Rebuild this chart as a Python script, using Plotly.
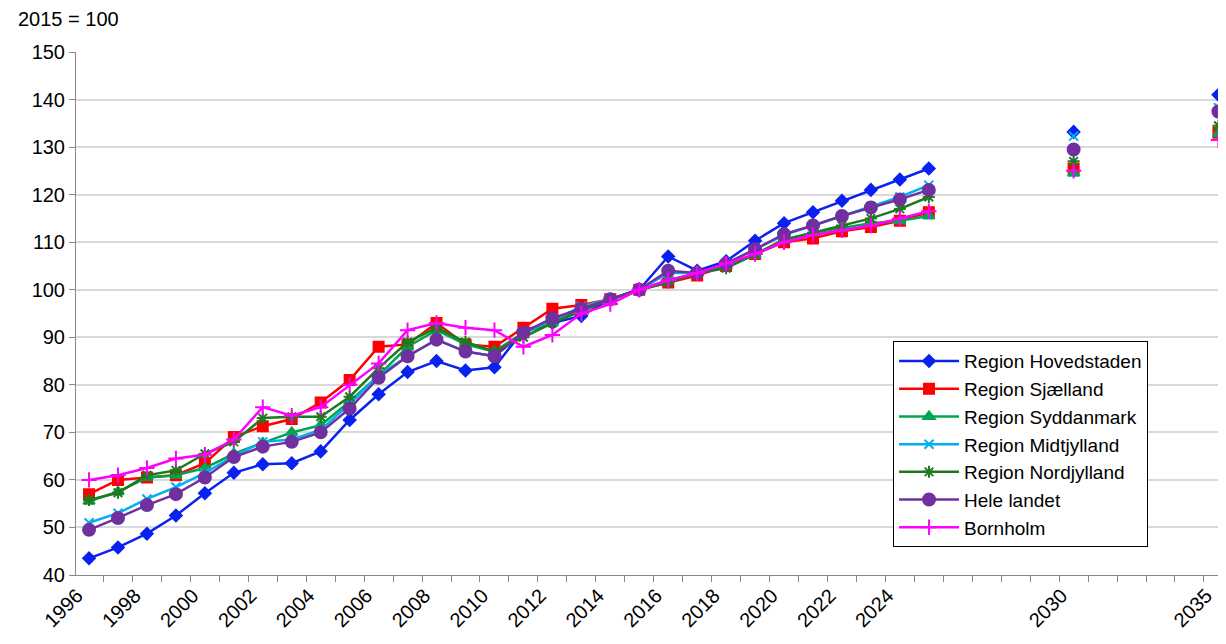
import plotly.graph_objects as go

years = list(range(1996, 2026)) + [2030, 2035]
hovedstaden = [43.5,45.8,48.7,52.5,57.2,61.5,63.3,63.5,66,72.6,78,82.7,85,83,83.7,91.5,93,94.5,98,100,107,104,106,110.3,114,116.3,118.7,121,123.2,125.5,133.2,141]
sjaelland = [57,60,60.5,61,63.5,69,71.3,72.8,76.3,81,88,88.5,93,88.5,88,92,96,96.8,98,100,101.5,103,105,107.5,110,110.8,112.3,113.2,114.5,116.3,125.5,133]
syddanmark = [55.5,57.5,60.5,61,62.5,65.5,67.8,70,71.5,76.5,82,88,91.5,88.5,87,91,93,96,98,100,102,103.5,105,107.3,110.5,112,113,114,114.5,115.5,124.5,132.8]
midtjylland = [51,53,56,58.5,61.5,65,68,68.5,70.5,76,82,86,89.5,87,86,91,93.5,96.5,98,100,103.5,103.5,105.5,108.5,111.5,113.5,115.5,117.5,119.5,122,132.3,138.3]
nordjylland = [55.8,57.3,61,62,65.5,68,73,73.3,73.3,77.5,83.5,89,92,89,87,90,93,95.5,98,100,101.5,103.5,104.5,107.5,110.5,112,113.5,115,117,119.5,127,134.5]
hele_landet = [49.5,52,54.7,57,60.5,64.8,67,68,70,75,81.5,86,89.5,87,86,91,94,96,98,100,104,103.5,105.5,108.5,111.7,113.5,115.5,117.3,119,121,129.5,137.5]
bornholm = [60,61,62.5,64.5,65.3,68.5,75.3,73.5,75.3,80,84.5,91.5,93,92,91.5,88,90.5,95,97,100,102,103.5,105.5,107.5,110,111.5,112.5,113.5,115,116.5,125,131.5]
tick_years = list(range(1996, 2025, 2)) + [2030, 2035]

series = [
    ("Region Hovedstaden", hovedstaden, "#0A22F0", "diamond", 9),
    ("Region Sjælland", sjaelland, "#FF0000", "square", 10),
    ("Region Syddanmark", syddanmark, "#00A550", "triangle-up", 10),
    ("Region Midtjylland", midtjylland, "#00B0F0", "x-thin-open", 9),
    ("Region Nordjylland", nordjylland, "#1E7A1E", "asterisk-open", 10),
    ("Hele landet", hele_landet, "#7030A0", "circle", 12),
    ("Bornholm", bornholm, "#FF00FF", "cross-thin-open", 11),
]

fig = go.Figure()
n_hist = 30
for name, vals, col, sym, sz in series:
    fig.add_trace(go.Scatter(x=years[:n_hist], y=vals[:n_hist], name=name, mode="lines+markers",
                             line=dict(color=col, width=2.5),
                             marker=dict(symbol=sym, size=sz, color=col, line=dict(color=col, width=2)),
                             legendgroup=name))
    fig.add_trace(go.Scatter(x=years[n_hist:], y=vals[n_hist:], name=name, mode="markers",
                             marker=dict(symbol=sym, size=sz, color=col, line=dict(color=col, width=2)),
                             legendgroup=name, showlegend=False))

fig.update_layout(
    width=1226, height=644,
    margin=dict(l=68, r=4, t=44, b=77, autoexpand=False),
    paper_bgcolor="white", plot_bgcolor="white",
    font=dict(family="Liberation Sans, Arial", size=20, color="black"),
    showlegend=True,
    legend=dict(x=0.708, y=0.447, xanchor="left", yanchor="top",
                bordercolor="black", borderwidth=1, bgcolor="white",
                font=dict(size=19), tracegroupgap=0, itemwidth=60),
    xaxis=dict(range=[1995.55, 2035.4], tickvals=tick_years, ticktext=[str(y) for y in tick_years],
               tickangle=-45, showgrid=False, showline=True, linecolor="#888888", linewidth=1,
               ticks="", zeroline=False, automargin=False, ticklabelshift=-12,
               minor=dict(tickvals=[y - 0.5 for y in range(1996, 2037)], ticks="outside", ticklen=6, tickcolor="#888888")),
    yaxis=dict(range=[40, 150], dtick=10, showgrid=True, gridcolor="#D9D9D9", gridwidth=1.5,
               showline=True, linecolor="#888888", linewidth=1, ticks="outside", ticklen=6, tickcolor="#888888",
               zeroline=False, automargin=False),
    annotations=[dict(text="2015 = 100", x=0, y=1, xref="paper", yref="paper", xshift=-60, yshift=20,
                      xanchor="left", yanchor="bottom", showarrow=False, font=dict(size=20))],
)
fig.write_html("out.html")
